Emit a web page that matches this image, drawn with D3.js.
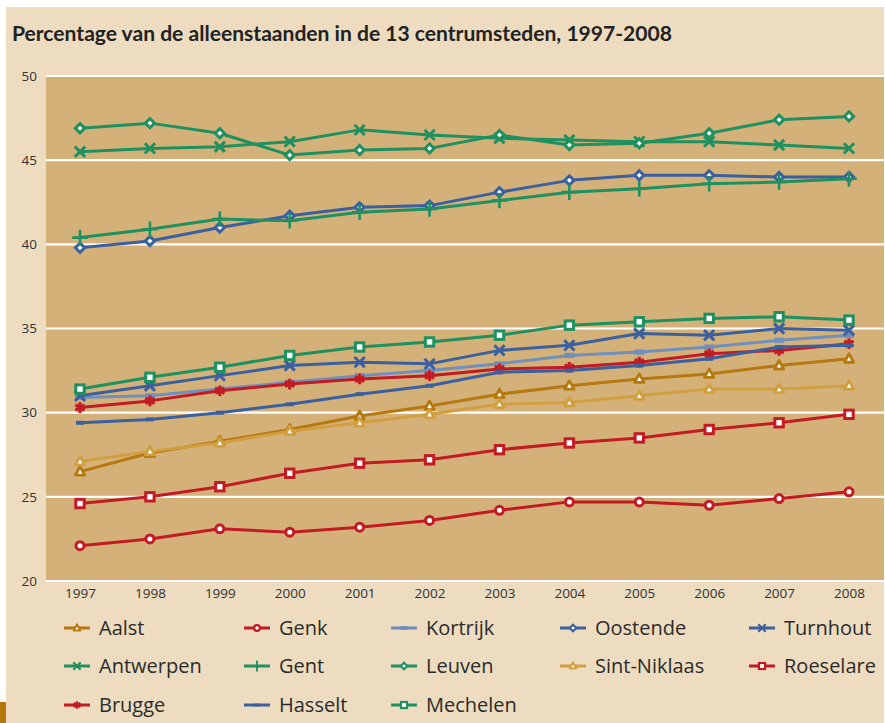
<!DOCTYPE html>
<html>
<head>
<meta charset="utf-8">
<script src="https://cdn.jsdelivr.net/npm/d3@7"></script>
<style>
  body { margin: 0; background: #fff; }
  svg { display: block; }
  .tick-label { font-family: "Open Sans", sans-serif; font-size: 13.5px; fill: #333; }
  .legend-label { font-family: "Open Sans", sans-serif; font-size: 20px; fill: #2b2b2b; }
  .title { font-family: Lato, sans-serif; font-weight: bold; font-size: 20px; fill: #222; }
</style>
</head>
<body>
<svg id="chart"></svg>
<script>
// data
var years = [1997, 1998, 1999, 2000, 2001, 2002, 2003, 2004, 2005, 2006, 2007, 2008];
var yTicks = [20, 25, 30, 35, 40, 45, 50];

var aalst       = [26.5, 27.6, 28.3, 29.0, 29.8, 30.4, 31.1, 31.6, 32.0, 32.3, 32.8, 33.2];
var genk        = [22.1, 22.5, 23.1, 22.9, 23.2, 23.6, 24.2, 24.7, 24.7, 24.5, 24.9, 25.3];
var kortrijk    = [30.9, 31.0, 31.4, 31.8, 32.2, 32.5, 32.9, 33.4, 33.6, 33.9, 34.3, 34.6];
var oostende    = [39.8, 40.2, 41.0, 41.7, 42.2, 42.3, 43.1, 43.8, 44.1, 44.1, 44.0, 44.0];
var turnhout    = [31.0, 31.6, 32.2, 32.8, 33.0, 32.9, 33.7, 34.0, 34.7, 34.6, 35.0, 34.9];
var antwerpen   = [45.5, 45.7, 45.8, 46.1, 46.8, 46.5, 46.3, 46.2, 46.1, 46.1, 45.9, 45.7];
var gent        = [40.4, 40.9, 41.5, 41.4, 41.9, 42.1, 42.6, 43.1, 43.3, 43.6, 43.7, 43.9];
var leuven      = [46.9, 47.2, 46.6, 45.3, 45.6, 45.7, 46.5, 45.9, 46.0, 46.6, 47.4, 47.6];
var sintNiklaas = [27.1, 27.7, 28.2, 28.9, 29.4, 29.9, 30.5, 30.6, 31.0, 31.4, 31.4, 31.6];
var roeselare   = [24.6, 25.0, 25.6, 26.4, 27.0, 27.2, 27.8, 28.2, 28.5, 29.0, 29.4, 29.9];
var brugge      = [30.3, 30.7, 31.3, 31.7, 32.0, 32.2, 32.6, 32.7, 33.0, 33.5, 33.7, 34.1];
var hasselt     = [29.4, 29.6, 30.0, 30.5, 31.1, 31.6, 32.4, 32.5, 32.8, 33.2, 33.9, 34.0];
var mechelen    = [31.4, 32.1, 32.7, 33.4, 33.9, 34.2, 34.6, 35.2, 35.4, 35.6, 35.7, 35.5];

var gold = "#b5790f", lightGold = "#d19f40", red = "#c21b24",
    blue = "#3b60a0", lightBlue = "#6f8fbd", green = "#1f9160";

var series = [
  { name: "Aalst",        values: aalst,       color: gold,      mark: "triangle" },
  { name: "Genk",         values: genk,        color: red,       mark: "circle" },
  { name: "Kortrijk",     values: kortrijk,    color: lightBlue, mark: "dash" },
  { name: "Oostende",     values: oostende,    color: blue,      mark: "diamond" },
  { name: "Turnhout",     values: turnhout,    color: blue,      mark: "x" },
  { name: "Antwerpen",    values: antwerpen,   color: green,     mark: "x" },
  { name: "Gent",         values: gent,        color: green,     mark: "plus" },
  { name: "Leuven",       values: leuven,      color: green,     mark: "diamond" },
  { name: "Sint-Niklaas", values: sintNiklaas, color: lightGold, mark: "triangle" },
  { name: "Roeselare",    values: roeselare,   color: red,       mark: "square" },
  { name: "Brugge",       values: brugge,      color: red,       mark: "asterisk" },
  { name: "Hasselt",      values: hasselt,     color: blue,      mark: "smalldash" },
  { name: "Mechelen",     values: mechelen,    color: green,     mark: "square" }
];

var W = 885, H = 723;
var svg = d3.select("#chart").attr("width", W).attr("height", H);

// background pieces
svg.append("rect").attr("x", 0).attr("y", 0).attr("width", W).attr("height", H).attr("fill", "#fff");
svg.append("rect").attr("x", 6).attr("y", 7).attr("width", 878).attr("height", H - 7).attr("fill", "#eddcbf");
svg.append("rect").attr("x", 0).attr("y", 702).attr("width", 6).attr("height", 21).attr("fill", "#b5770c");

svg.append("text").attr("class", "title")
   .attr("x", 12).attr("y", 41)
   .attr("textLength", 660).attr("lengthAdjust", "spacingAndGlyphs")
   .text("Percentage van de alleenstaanden in de 13 centrumsteden, 1997-2008");

var plotL = 46, plotR = 884, plotT = 76, plotB = 581;
var x = d3.scaleLinear().domain([1997, 2008]).range([80, 849]);
var y = d3.scaleLinear().domain([20, 50]).range([plotB, plotT]);

svg.append("rect").attr("x", plotL).attr("y", plotT)
   .attr("width", plotR - plotL).attr("height", plotB - plotT).attr("fill", "#d5b17a");

// gridlines
svg.selectAll(".grid").data(yTicks).enter().append("line")
   .attr("class", "grid")
   .attr("x1", plotL).attr("x2", plotR)
   .attr("y1", function(d) { return y(d); }).attr("y2", function(d) { return y(d); })
   .attr("stroke", "#fff").attr("stroke-width", 2.2);

// axes (labels only)
var yAxis = svg.append("g").attr("transform", "translate(" + 37 + ",0)")
   .call(d3.axisLeft(y).tickValues(yTicks).tickSize(0).tickPadding(0));
yAxis.select(".domain").remove();
yAxis.selectAll("text").attr("class", "tick-label").attr("font-family", null).attr("font-size", null);

var xAxis = svg.append("g").attr("transform", "translate(0," + 588 + ")")
   .call(d3.axisBottom(x).tickValues(years).tickFormat(d3.format("d")).tickSize(0).tickPadding(0));
xAxis.select(".domain").remove();
xAxis.selectAll("text").attr("class", "tick-label").attr("font-family", null).attr("font-size", null);

// marker drawing, s = scale factor
function drawMark(g, type, color, s) {
  if (type === "triangle") {
    var h = 4.6 * s;
    g.append("path")
     .attr("d", "M0," + (-h * 1.1) + "L" + h + "," + (h * 0.75) + "L" + (-h) + "," + (h * 0.75) + "Z")
     .attr("fill", "#fff").attr("stroke", color).attr("stroke-width", 2.8 * s)
     .attr("stroke-linejoin", "round");
  } else if (type === "circle") {
    g.append("circle").attr("r", 4 * s)
     .attr("fill", "#fff").attr("stroke", color).attr("stroke-width", 3 * s);
  } else if (type === "diamond") {
    var d = 4.6 * s;
    g.append("path").attr("d", "M0," + (-d) + "L" + d + ",0L0," + d + "L" + (-d) + ",0Z")
     .attr("fill", "#fff").attr("stroke", color).attr("stroke-width", 3 * s);
  } else if (type === "square") {
    g.append("rect").attr("x", -4.2 * s).attr("y", -4.2 * s)
     .attr("width", 8.4 * s).attr("height", 8.4 * s)
     .attr("fill", "#fff").attr("stroke", color).attr("stroke-width", 3 * s);
  } else if (type === "x") {
    g.append("path").attr("d", d3.symbol(d3.symbolX, 70 * s * s)())
     .attr("fill", "none").attr("stroke", color).attr("stroke-width", 3 * s);
  } else if (type === "plus") {
    g.append("path").attr("d", d3.symbol(d3.symbolPlus, 80 * s * s)())
     .attr("fill", "none").attr("stroke", color).attr("stroke-width", 2.6 * s);
  } else if (type === "asterisk") {
    g.append("path").attr("d", d3.symbol(d3.symbolAsterisk, 80 * s * s)())
     .attr("fill", "none").attr("stroke", color).attr("stroke-width", 3.2 * s);
  } else if (type === "dash") {
    g.append("rect").attr("x", -5 * s).attr("y", -2.6 * s)
     .attr("width", 10 * s).attr("height", 5.2 * s).attr("fill", color);
  } else if (type === "smalldash") {
    g.append("rect").attr("x", -4 * s).attr("y", -2 * s)
     .attr("width", 8 * s).attr("height", 4 * s).attr("fill", color);
  }
}

var line = d3.line()
  .x(function(d, i) { return x(years[i]); })
  .y(function(d) { return y(d); });

var lines = svg.append("g");
series.forEach(function(s) {
  var g = lines.append("g");
  g.append("path").attr("d", line(s.values))
   .attr("fill", "none").attr("stroke", s.color).attr("stroke-width", 3)
   .attr("stroke-linejoin", "round");
  s.values.forEach(function(v, i) {
    var mg = g.append("g").attr("transform", "translate(" + x(years[i]) + "," + y(v) + ")");
    drawMark(mg, s.mark, s.color, 1);
  });
});

// legend
var colX = [64, 244, 391, 560, 749];
var rowY = [628, 666, 705];
var legend = svg.append("g");
series.forEach(function(s, i) {
  var cx = colX[i % 5], cy = rowY[Math.floor(i / 5)];
  var g = legend.append("g").attr("transform", "translate(" + cx + "," + cy + ")");
  g.append("line").attr("x1", 0).attr("x2", 26).attr("y1", 0).attr("y2", 0)
   .attr("stroke", s.color).attr("stroke-width", 3);
  var mg = g.append("g").attr("transform", "translate(13,0)");
  drawMark(mg, s.mark, s.color, 0.72);
  g.append("text").attr("class", "legend-label")
   .attr("x", 35).attr("y", 0).attr("dy", "0.35em")
   .text(s.name);
});
</script>
</body>
</html>
